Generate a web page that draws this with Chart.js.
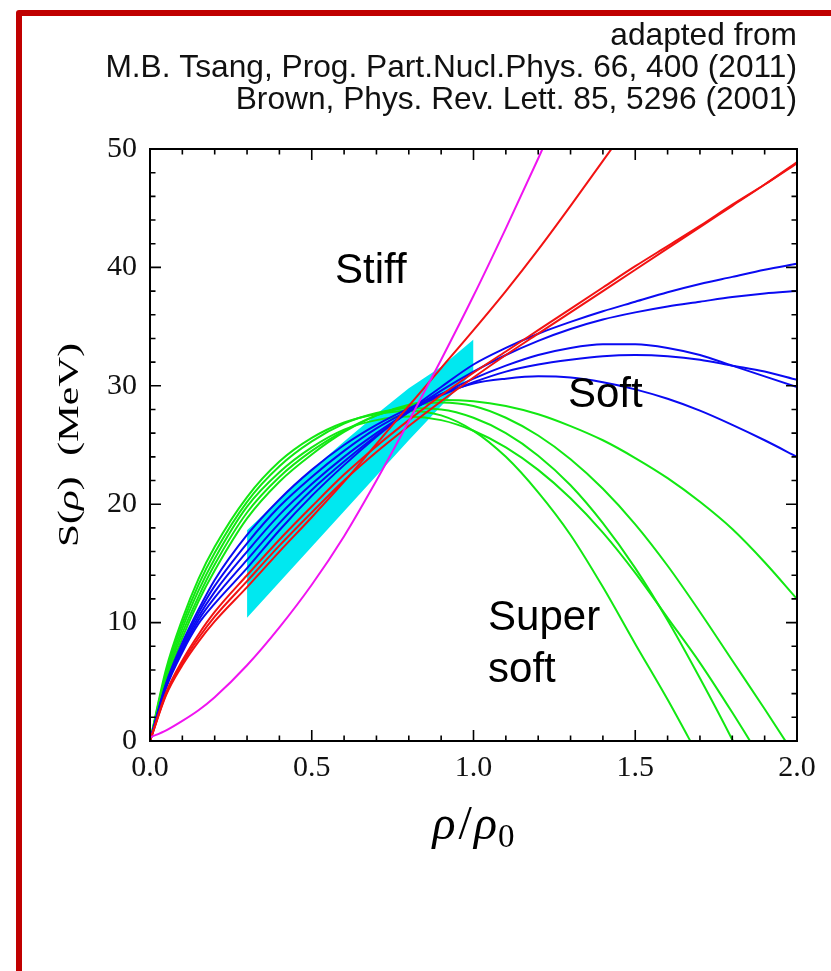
<!DOCTYPE html>
<html>
<head>
<meta charset="utf-8">
<script src="https://cdn.jsdelivr.net/npm/chart.js@4.4.1/dist/chart.umd.min.js"></script>
<style>
  html, body { margin: 0; padding: 0; background: #fff; overflow: hidden; }
  #wrap { width: 831px; height: 971px; position: relative; }
</style>
</head>
<body>
<div id="wrap"><canvas id="c" width="831" height="971"></canvas></div>
<script>
// Density grid rho/rho0 shared by all curves
const rho = [0, 0.05, 0.1, 0.15, 0.2, 0.3, 0.4, 0.5, 0.6, 0.7, 0.8, 0.9, 1.0, 1.1, 1.2, 1.3, 1.4, 1.5, 1.6, 1.7, 1.8, 1.9, 2.0];

// Super soft symmetry energies S(rho) in MeV (green)
const superSoftA = [0, 6.1, 10.3, 13.7, 16.4, 20.6, 23.6, 25.6, 26.9, 27.6, 27.9, 27.5, 26.2, 24.0, 21.0, 17.4, 13.0, 8.2, 3.5, -1.5];
const superSoftB = [0, 5.8, 9.9, 13.2, 15.9, 20.2, 23.2, 25.3, 26.8, 27.7, 28.1, 28.0, 27.3, 26.0, 24.1, 21.6, 18.4, 14.6, 10.2, 5.3, 0.1, -5.6];
const superSoftC = [0, 5.5, 9.5, 12.7, 15.4, 19.8, 22.7, 24.8, 26.3, 27.1, 27.4, 27.1, 26.2, 24.8, 22.9, 20.5, 17.6, 14.2, 10.4, 6.6, 2.4, -2.0];
const superSoftD = [0, 5.3, 9.1, 12.2, 14.9, 19.3, 22.3, 24.5, 26.2, 27.5, 28.3, 28.6, 28.3, 27.3, 25.8, 23.8, 21.3, 18.3, 14.8, 10.9, 6.8, 2.7, -1.5];
const superSoftE = [0, 5.0, 8.7, 11.8, 14.4, 18.8, 21.9, 24.2, 26.1, 27.5, 28.4, 28.8, 28.7, 28.3, 27.6, 26.6, 25.4, 23.9, 22.2, 20.2, 17.9, 15.1, 12.0];

// Soft (blue)
const softA = [0, 4.9, 8.3, 11.1, 13.6, 17.4, 20.4, 22.9, 25.0, 26.7, 28.1, 29.3, 30.2, 30.6, 30.8, 30.7, 30.3, 29.7, 28.9, 27.9, 26.7, 25.4, 24.0];
const softB = [0, 4.8, 8.1, 10.8, 13.1, 16.7, 19.8, 22.3, 24.5, 26.4, 27.9, 29.2, 30.3, 31.2, 31.8, 32.2, 32.5, 32.6, 32.5, 32.2, 31.7, 31.2, 30.5];
const softC = [0, 4.7, 7.9, 10.5, 12.6, 16.0, 19.1, 21.7, 24.0, 26.0, 27.8, 29.3, 30.6, 31.7, 32.6, 33.2, 33.5, 33.5, 33.2, 32.6, 31.7, 30.8, 29.9];
const softD = [0, 4.6, 7.7, 10.2, 12.1, 15.3, 18.4, 21.2, 23.6, 25.8, 27.8, 29.6, 31.2, 32.6, 33.8, 34.8, 35.6, 36.2, 36.7, 37.1, 37.5, 37.8, 38.0];
const softE = [0, 4.5, 7.5, 9.9, 11.6, 14.6, 17.8, 20.7, 23.3, 25.7, 27.9, 29.9, 31.8, 33.2, 34.4, 35.4, 36.3, 37.1, 37.9, 38.6, 39.2, 39.8, 40.3];

// Stiff (red)
const stiffA = [0, 4.1, 6.8, 9.0, 10.9, 14.0, 17.0, 19.8, 22.5, 24.9, 27.1, 29.2, 31.1, 32.9, 34.7, 36.5, 38.3, 40.1, 41.8, 43.5, 45.3, 47.0, 48.8];
const stiffB = [0, 4.0, 6.6, 8.7, 10.5, 13.5, 16.5, 19.3, 22.0, 24.4, 26.6, 28.7, 30.7, 32.6, 34.4, 36.2, 38.0, 39.8, 41.6, 43.4, 45.2, 47.0, 48.9];
const stiffC = [0, 3.9, 6.4, 8.4, 10.1, 13.0, 16.0, 18.9, 21.9, 25.1, 28.3, 31.5, 34.7, 38.0, 41.5, 45.2, 49.0, 52.8];

// Stiffest (magenta)
const stiffest = [0.3, 0.9, 1.7, 2.6, 3.7, 6.4, 9.6, 13.2, 17.3, 22.0, 27.0, 32.2, 37.6, 43.3, 49.2, 55.3];

// Constraint band (cyan)
const bandRho = [0.3, 0.4, 0.5, 0.6, 0.7, 0.8, 0.9, 1.0];
const bandUpper = [17.8, 20.4, 22.9, 25.3, 27.6, 29.8, 31.6, 33.9];
const bandLower = [10.4, 13.4, 16.4, 19.4, 22.4, 25.4, 28.3, 31.2];

// Axis ticks
const xMajor = 0.5, xMinor = 0.1;
const yMajor = 10, yMinor = 2;

// Texts
const credits = [
  'adapted from',
  'M.B. Tsang, Prog. Part.Nucl.Phys. 66, 400 (2011)',
  'Brown, Phys. Rev. Lett. 85, 5296 (2001)'
];
const regionLabels = [
  { text: 'Stiff', x: 0.572, y: 38.7 },
  { text: 'Soft',  x: 1.292, y: 28.2 },
  { text: 'Super', x: 1.045, y: 9.4 },
  { text: 'soft',  x: 1.045, y: 5.0 }
];

const GREEN = '#12e812', BLUE = '#0a0af2', RED = '#f21212', MAGENTA = '#f014f0', CYAN = '#00e8f0';

function curve(vals, color) {
  return {
    data: vals.map((v, i) => ({ x: rho[i], y: v })),
    borderColor: color, borderWidth: 2, pointRadius: 0, fill: false,
    cubicInterpolationMode: 'monotone'
  };
}

const datasets = [
  curve(stiffest, MAGENTA),
  curve(stiffA, RED), curve(stiffB, RED), curve(stiffC, RED),
  curve(softA, BLUE), curve(softB, BLUE), curve(softC, BLUE), curve(softD, BLUE), curve(softE, BLUE),
  curve(superSoftA, GREEN), curve(superSoftB, GREEN), curve(superSoftC, GREEN), curve(superSoftD, GREEN), curve(superSoftE, GREEN),
  {
    data: bandRho.map((r, i) => ({ x: r, y: bandUpper[i] })),
    borderColor: 'rgba(0,0,0,0)', borderWidth: 0, pointRadius: 0, tension: 0,
    backgroundColor: CYAN, fill: '+1'
  },
  {
    data: bandRho.map((r, i) => ({ x: r, y: bandLower[i] })),
    borderColor: 'rgba(0,0,0,0)', borderWidth: 0, pointRadius: 0, tension: 0, fill: false
  }
];

function drawPieces(ctx, pieces, cx, baseY) {
  let total = 0;
  pieces.forEach(p => { ctx.font = p.font; p.w = ctx.measureText(p.t).width; total += p.w + (p.gap || 0); });
  let x = cx - total / 2;
  pieces.forEach(p => {
    ctx.font = p.font;
    ctx.fillText(p.t, x, baseY + (p.dy || 0));
    x += p.w + (p.gap || 0);
  });
}

const decor = {
  id: 'decor',
  beforeDraw(chart) {
    const ctx = chart.ctx;
    ctx.save();
    ctx.fillStyle = '#fff';
    ctx.fillRect(0, 0, chart.width, chart.height);
    ctx.strokeStyle = '#c00000';
    ctx.lineWidth = 6;
    ctx.lineJoin = 'round';
    ctx.beginPath();
    ctx.moveTo(19, chart.height + 10);
    ctx.lineTo(19, 13);
    ctx.lineTo(chart.width + 10, 13);
    ctx.stroke();
    ctx.restore();
  },
  afterDatasetsDraw(chart) {
    const { ctx, chartArea: a, scales: { x, y } } = chart;
    ctx.save();
    ctx.strokeStyle = '#000';
    ctx.lineWidth = 2;
    ctx.strokeRect(a.left, a.top, a.right - a.left, a.bottom - a.top);
    ctx.lineWidth = 1.6;
    ctx.beginPath();
    const nx = Math.round((x.max - x.min) / xMinor);
    for (let k = 0; k <= nx; k++) {
      const v = x.min + k * xMinor;
      const px = x.getPixelForValue(v);
      const len = (k % Math.round(xMajor / xMinor) === 0) ? 11 : 5.5;
      ctx.moveTo(px, a.bottom); ctx.lineTo(px, a.bottom - len);
      ctx.moveTo(px, a.top); ctx.lineTo(px, a.top + len);
    }
    const ny = Math.round((y.max - y.min) / yMinor);
    for (let k = 0; k <= ny; k++) {
      const v = y.min + k * yMinor;
      const py = y.getPixelForValue(v);
      const len = (v % yMajor === 0) ? 11 : 5.5;
      ctx.moveTo(a.left, py); ctx.lineTo(a.left + len, py);
      ctx.moveTo(a.right, py); ctx.lineTo(a.right - len, py);
    }
    ctx.stroke();
    ctx.restore();
  },
  afterDraw(chart) {
    const { ctx, chartArea: a, scales: { x, y } } = chart;
    ctx.save();
    ctx.fillStyle = '#111';
    // credits, top right
    ctx.font = '31.7px "Liberation Sans", Arial, sans-serif';
    ctx.textAlign = 'right';
    ctx.textBaseline = 'alphabetic';
    credits.forEach((line, i) => ctx.fillText(line, a.right, 45 + i * 32));
    // region labels
    ctx.fillStyle = '#000';
    ctx.textAlign = 'left';
    ctx.font = '42px "Liberation Sans", Arial, sans-serif';
    regionLabels.forEach(l => ctx.fillText(l.text, x.getPixelForValue(l.x), y.getPixelForValue(l.y)));
    // x axis title rho/rho0
    const serif = '"Liberation Serif", "DejaVu Serif", serif';
    drawPieces(ctx, [
      { t: 'ρ', font: 'italic 48px ' + serif, gap: 3 },
      { t: '/', font: '48px ' + serif, gap: 2 },
      { t: 'ρ', font: 'italic 48px ' + serif, gap: 1 },
      { t: '0', font: '33px ' + serif, dy: 8 }
    ], (a.left + a.right) / 2, 839);
    // y axis title S(rho) (MeV)
    ctx.translate(78, (a.top + a.bottom) / 2);
    ctx.rotate(-Math.PI / 2);
    ctx.scale(1.38, 1);
    drawPieces(ctx, [
      { t: 'S(', font: '30px ' + serif },
      { t: 'ρ', font: 'italic 30px ' + serif },
      { t: ')  (MeV)', font: '30px ' + serif }
    ], 0, 0);
    ctx.restore();
  }
};

const tickFont = { family: '"Liberation Serif", "DejaVu Serif", serif', size: 30 };

new Chart(document.getElementById('c'), {
  type: 'line',
  data: { datasets },
  options: {
    responsive: false,
    animation: false,
    events: [],
    layout: { padding: { left: 0, top: 149, right: 34, bottom: 130 } },
    plugins: { legend: { display: false }, tooltip: { enabled: false } },
    scales: {
      x: {
        type: 'linear', min: 0, max: 2,
        grid: { display: false, drawTicks: false },
        border: { display: false },
        ticks: { stepSize: xMajor, padding: 9, font: tickFont, color: '#111', maxRotation: 0, autoSkip: false,
                 callback: v => Number(v).toFixed(1) },
        afterFit(s) { s.height = 100; }
      },
      y: {
        type: 'linear', min: 0, max: 50,
        grid: { display: false, drawTicks: false },
        border: { display: false },
        ticks: { stepSize: yMajor, padding: 13, font: tickFont, color: '#111',
                 callback: v => String(v) },
        afterFit(s) { s.width = 150; }
      }
    }
  },
  plugins: [decor]
});
</script>
</body>
</html>
